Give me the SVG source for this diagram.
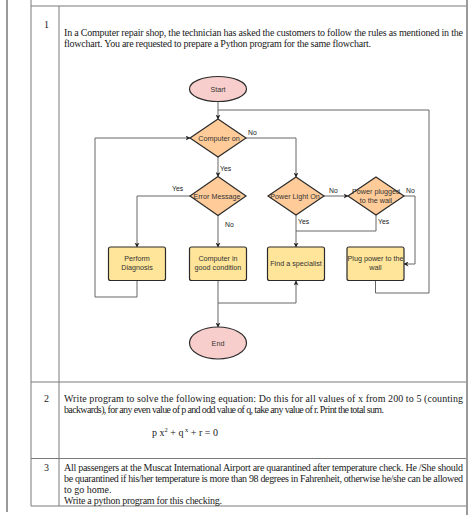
<svg xmlns="http://www.w3.org/2000/svg" width="474" height="515" viewBox="0 0 474 515">
<defs>
<marker id="arr" viewBox="0 0 10 10" refX="9" refY="5" markerWidth="5" markerHeight="5" orient="auto" markerUnits="userSpaceOnUse">
<path d="M0,0 L10,5 L0,10 L3,5 Z" fill="#222"/>
</marker>
<style>
.page{stroke:#9a9a9a;stroke-width:2;fill:none}
.tbl{stroke:#7a7a7a;stroke-width:1;fill:none}
.body{font-family:"Liberation Serif",serif;font-size:10px;fill:#1a1a1a}
.ell{fill:#f8cecc;stroke:#2b2b2b;stroke-width:1.2}
.dia{fill:#ffcc99;stroke:#2b2b2b;stroke-width:1.2}
.box{fill:#ffe599;stroke:#2b2b2b;stroke-width:1.2}
.lbl{font-family:"Liberation Sans",Arial,sans-serif;font-size:7.2px;fill:#333;text-anchor:middle}
.elbl{font-family:"Liberation Sans",Arial,sans-serif;font-size:6.8px;fill:#1a1a1a}
.con{stroke:#666;stroke-width:1;fill:none}
</style>
</defs>
<rect width="474" height="515" fill="#fff"/>
<g id="page">
<line class="page" x1="7" y1="0" x2="7" y2="512"/>
<line class="page" x1="467" y1="0" x2="467" y2="515"/>
<line class="tbl" x1="31" y1="0" x2="31" y2="506"/>
<line class="tbl" x1="59" y1="6" x2="59" y2="506"/>
<line class="tbl" x1="31" y1="6" x2="466" y2="6"/>
<line class="tbl" x1="31" y1="382" x2="466" y2="382"/>
<line class="tbl" x1="31" y1="458.5" x2="466" y2="458.5"/>
<line class="tbl" x1="31" y1="506" x2="466" y2="506"/>
</g>
<g id="texts">
<text class="body" x="44" y="27.5">1</text>
<text class="body" x="64" y="35.5" textLength="399" lengthAdjust="spacing">In a Computer repair shop, the technician has asked the customers to follow the rules as mentioned in the</text>
<text class="body" x="64" y="46.5" textLength="307" lengthAdjust="spacing">flowchart. You are requested to prepare a Python program for the same flowchart.</text>
<text class="body" x="44" y="402">2</text>
<text class="body" x="64" y="402" textLength="399" lengthAdjust="spacing">Write program to solve the following equation: Do this for all values of x from 200 to 5 (counting</text>
<text class="body" x="64" y="413" textLength="320" lengthAdjust="spacing">backwards), for any even value of p and odd value of q, take any value of r. Print the total sum.</text>
<text class="body" x="152" y="436">p x<tspan font-size="6.5" dy="-4">2</tspan><tspan dy="4"> + q</tspan><tspan font-size="6.5" dy="-4"> x</tspan><tspan dy="4"> + r = 0</tspan></text>
<text class="body" x="44" y="470.5">3</text>
<text class="body" x="64" y="470.5" textLength="399" lengthAdjust="spacing">All passengers at the Muscat International Airport are quarantined after temperature check. He /She should</text>
<text class="body" x="64" y="482" textLength="399" lengthAdjust="spacing">be quarantined if his/her temperature is more than 98 degrees in Fahrenheit, otherwise he/she can be allowed</text>
<text class="body" x="64" y="493">to go home.</text>
<text class="body" x="64" y="504" textLength="158" lengthAdjust="spacing">Write a python program for this checking.</text>
</g>
<g id="connectors">
<path class="con" d="M218,101 V119" marker-end="url(#arr)"/>
<path class="con" d="M375.5,280 V293 H429 V110 H218"/>
<path class="con" d="M246,138 H296 V177" marker-end="url(#arr)"/>
<path class="con" d="M218,157 V176.5" marker-end="url(#arr)"/>
<path class="con" d="M190,196 H137 V247" marker-end="url(#arr)"/>
<path class="con" d="M218,215.5 V247" marker-end="url(#arr)"/>
<path class="con" d="M137,281 V297 H95 V138 H190" marker-end="url(#arr)"/>
<path class="con" d="M218,281 V327" marker-end="url(#arr)"/>
<path class="con" d="M218,303 H296 V281" marker-end="url(#arr)"/>
<path class="con" d="M324,196 H348" marker-end="url(#arr)"/>
<path class="con" d="M404,196 H415 V264 H404" marker-end="url(#arr)"/>
<path class="con" d="M296,215 V247" marker-end="url(#arr)"/>
<path class="con" d="M376,215 V231 H296"/>
<text class="elbl" x="248" y="135">No</text>
<text class="elbl" x="220" y="171">Yes</text>
<text class="elbl" x="172" y="191">Yes</text>
<text class="elbl" x="225" y="227">No</text>
<text class="elbl" x="329" y="193">No</text>
<text class="elbl" x="406" y="193">No</text>
<text class="elbl" x="298" y="224">Yes</text>
<text class="elbl" x="378" y="224">Yes</text>
</g>
<g id="start">
<ellipse class="ell" cx="218" cy="89" rx="28.5" ry="12.5"/>
<text class="lbl" x="218" y="91.5" font-size="6.8">Start</text>
</g>
<g id="computer-on">
<polygon class="dia" points="218,119 246,138 218,157 190,138"/>
<text class="lbl" x="219" y="140.5">Computer on</text>
</g>
<g id="error-message">
<polygon class="dia" points="218,176.5 246,196 218,215.5 190,196"/>
<text class="lbl" x="217" y="198.5">Error Message</text>
</g>
<g id="power-light-on">
<polygon class="dia" points="296,177 324,196 296,215 268,196"/>
<text class="lbl" x="295" y="198.5">Power Light On</text>
</g>
<g id="power-plugged">
<polygon class="dia" points="376,177 404,196 376,215 348,196"/>
<text class="lbl" x="376" y="194">Power plugged</text>
<text class="lbl" x="376" y="202.5">to the wall</text>
</g>
<g id="perform-diagnosis">
<rect class="box" x="108.5" y="247" width="57" height="33.5" rx="2"/>
<text class="lbl" x="137" y="261">Perform</text>
<text class="lbl" x="137" y="270">Diagnosis</text>
</g>
<g id="good-condition">
<rect class="box" x="189.5" y="247" width="57" height="33.5" rx="2"/>
<text class="lbl" x="218" y="261">Computer in</text>
<text class="lbl" x="218" y="270">good condition</text>
</g>
<g id="find-specialist">
<rect class="box" x="267.5" y="247" width="57" height="33.5" rx="2"/>
<text class="lbl" x="296" y="266">Find a specialist</text>
</g>
<g id="plug-power">
<rect class="box" x="347" y="247" width="57" height="33.5" rx="2"/>
<text class="lbl" x="375.5" y="261">Plug power to the</text>
<text class="lbl" x="375.5" y="270">wall</text>
</g>
<g id="end">
<ellipse class="ell" cx="218" cy="343" rx="28.5" ry="16"/>
<text class="lbl" x="218" y="345.5">End</text>
</g>
</svg>
